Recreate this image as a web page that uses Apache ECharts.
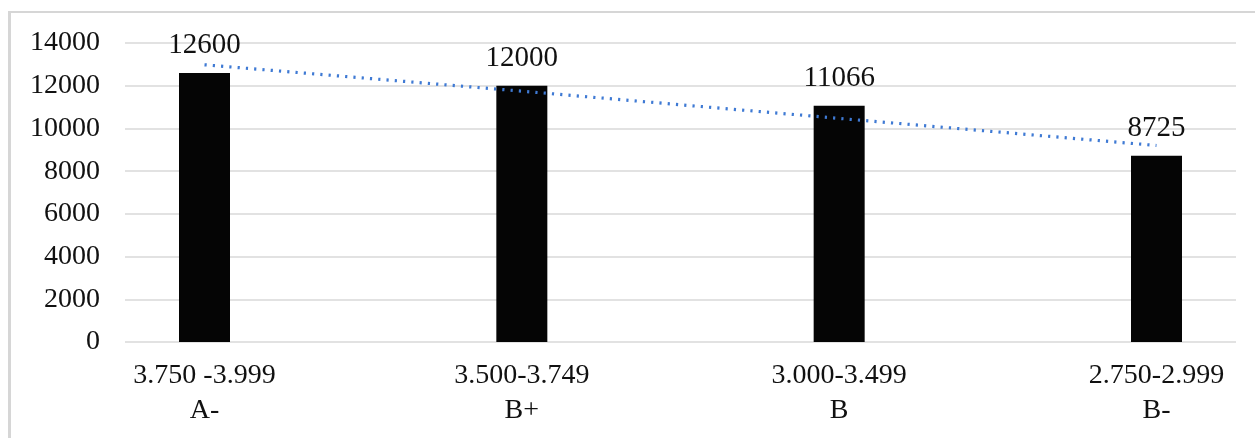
<!DOCTYPE html>
<html>
<head>
<meta charset="utf-8">
<script src="https://cdn.jsdelivr.net/npm/echarts@6/dist/echarts.min.js"></script>
<style>
html,body{margin:0;padding:0;background:#fff;}
#c{width:1255px;height:438px;}
</style>
</head>
<body>
<div id="c"></div>
<script>
const categories = ['3.750 -3.999\nA-', '3.500-3.749\nB+', '3.000-3.499\nB', '2.750-2.999\nB-'];
const values = [12600, 12000, 11066, 8725];
const trendValues = [12980, 11745, 10470, 9200];
const yTicks = { min: 0, max: 14000, interval: 2000 };

const FONT = "'Liberation Serif', 'Times New Roman', serif";
const chart = echarts.init(document.getElementById('c'), null, { renderer: 'canvas' });
chart.setOption({
  animation: false,
  backgroundColor: '#fff',
  graphic: [
    { type: 'line', shape: { x1: 9.5, y1: 11, x2: 9.5, y2: 438 }, style: { stroke: '#d6d6d6', lineWidth: 3 } },
    { type: 'line', shape: { x1: 8, y1: 12, x2: 1255, y2: 12 }, style: { stroke: '#d6d6d6', lineWidth: 2 } }
  ],
  grid: [
    { left: 204.5, right: 98.5, top: 43, bottom: 96 },
    { left: 125, right: 19, top: 43, bottom: 96 }
  ],
  xAxis: [
    {
      type: 'category', gridIndex: 0, data: categories, boundaryGap: false,
      axisLine: { show: false }, axisTick: { show: false }, splitLine: { show: false },
      axisLabel: { color: '#111', fontFamily: FONT, fontSize: 28, lineHeight: 35, margin: 16, interval: 0 }
    },
    { type: 'value', gridIndex: 1, show: false }
  ],
  yAxis: [
    { type: 'value', gridIndex: 0, min: yTicks.min, max: yTicks.max, interval: yTicks.interval, show: false },
    {
      type: 'value', gridIndex: 1, min: yTicks.min, max: yTicks.max, interval: yTicks.interval,
      axisLine: { show: false }, axisTick: { show: false },
      splitLine: { show: true, lineStyle: { color: '#d9d9d9', width: 1.5 } },
      axisLabel: { color: '#111', fontFamily: FONT, fontSize: 28, margin: 25, formatter: v => String(v) }
    }
  ],
  series: [
    {
      type: 'bar', xAxisIndex: 0, yAxisIndex: 0, data: values, barWidth: 51,
      itemStyle: { color: '#050505' },
      label: { show: true, position: 'top', distance: 13, color: '#111', fontFamily: FONT, fontSize: 29 }
    },
    {
      type: 'line', xAxisIndex: 0, yAxisIndex: 0, data: trendValues, symbol: 'none',
      lineStyle: { color: '#3f7ad4', width: 3.2, type: [2.2, 6.1] },
      z: 5
    }
  ]
});
</script>
</body>
</html>
